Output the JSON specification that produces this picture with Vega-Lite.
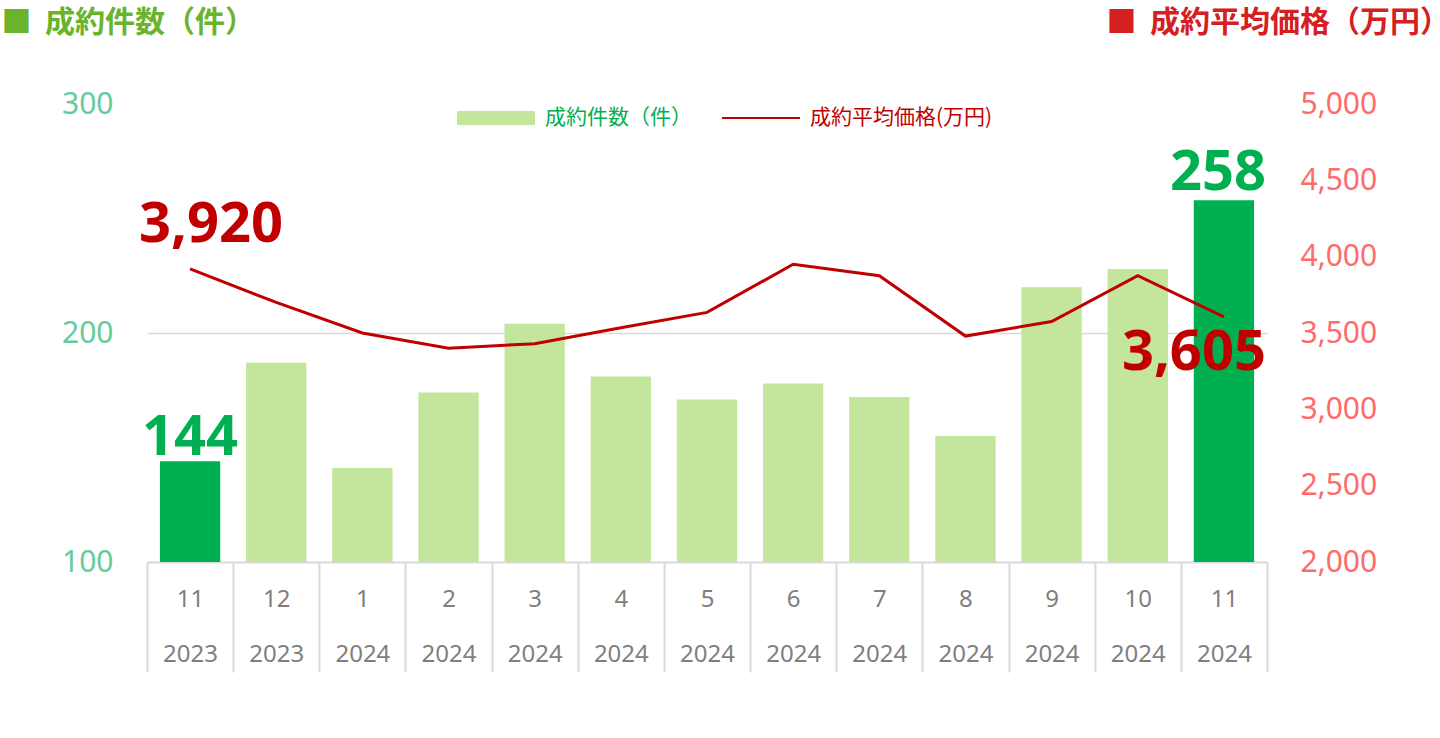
{
  "$schema": "https://vega.github.io/schema/vega-lite/v6.json",
  "width": 1120,
  "height": 458,
  "autosize": {"type": "none"},
  "padding": {"left": 147, "top": 104, "right": 173, "bottom": 176},
  "background": "white",
  "config": {"view": {"stroke": null}, "font": "Noto Sans"},
  "data": {
    "values": [
      {"key": "11|2023", "count": 144, "price": 3920},
      {"key": "12|2023", "count": 187, "price": 3700},
      {"key": "1|2024", "count": 141, "price": 3500},
      {"key": "2|2024", "count": 174, "price": 3400},
      {"key": "3|2024", "count": 204, "price": 3430},
      {"key": "4|2024", "count": 181, "price": 3535},
      {"key": "5|2024", "count": 171, "price": 3635},
      {"key": "6|2024", "count": 178, "price": 3950},
      {"key": "7|2024", "count": 172, "price": 3875},
      {"key": "8|2024", "count": 155, "price": 3480},
      {"key": "9|2024", "count": 220, "price": 3575},
      {"key": "10|2024", "count": 228, "price": 3875},
      {"key": "11|2024", "count": 258, "price": 3605}
    ]
  },
  "encoding": {
    "x": {
      "field": "key",
      "type": "nominal",
      "sort": null,
      "scale": {"paddingInner": 0, "paddingOuter": 0},
      "axis": {
        "title": null,
        "labelAngle": 0,
        "labelExpr": "datum.value ? split(datum.value, '|') : ''",
        "labelFontSize": 24,
        "labelFont": "Noto Sans",
        "labelColor": "#7f7f7f",
        "labelLineHeight": 55,
        "labelPadding": -85,
        "labelBaseline": "top",
        "labelOverlap": false,
        "domainColor": "#d9d9d9",
        "domainWidth": 2,
        "tickColor": "#d9d9d9",
        "tickWidth": 2,
        "tickSize": 110,
        "tickBand": "extent",
        "grid": false
      }
    }
  },
  "layer": [
    {
      "encoding": {
        "y": {
          "field": "count",
          "type": "quantitative",
          "scale": {"domain": [100, 300], "zero": false},
          "axis": {
            "orient": "left",
            "title": "■\u00a0\u00a0成約件数（件）",
            "titleAngle": 0,
            "titleAlign": "left",
            "titleBaseline": "alphabetic",
            "titleX": -146,
            "titleY": -73,
            "titleFontSize": 30,
            "titleFont": "Noto Sans CJK JP",
            "titleFontWeight": "bold",
            "titleColor": "#6ab42c",
            "values": [100, 200, 300],
            "domain": false,
            "ticks": false,
            "labelFlush": false,
            "labelPadding": 34,
            "labelFontSize": 30,
            "labelColor": "#66cc99",
            "grid": true,
            "gridColor": "#d9d9d9",
            "gridWidth": 1.5,
            "gridOpacity": {"condition": {"test": "datum.value === 200", "value": 1}, "value": 0}
          }
        }
      },
      "layer": [
        {
          "mark": {"type": "bar", "width": {"band": 0.7}},
          "encoding": {
            "y2": {"datum": 100},
            "color": {
              "condition": {"test": "datum.key === '11|2023' || datum.key === '11|2024'", "value": "#00b050"},
              "datum": "成約件数（件）",
              "type": "nominal",
              "scale": {"domain": ["成約件数（件）", "成約平均価格(万円)"], "range": ["#c4e59c", "#c00000"]},
              "legend": {
                "title": null,
                "orient": "none",
                "legendX": 310,
                "legendY": -25,
                "direction": "horizontal",
                "padding": 0,
                "symbolSize": 6084,
                "symbolStrokeWidth": 0,
                "labelFontSize": 21,
                "labelFont": "Noto Sans CJK JP",
                "labelOffset": 10,
                "labelLimit": 400,
                "columnPadding": 30,
                "encode": {
                  "symbols": {
                    "update": {
                      "shape": {"signal": "datum.value === '成約件数（件）' ? 'M-1,-0.18H1V0.18H-1Z' : 'M-1,-0.026H1V0.026H-1Z'"},
                      "fill": {"signal": "datum.value === '成約件数（件）' ? '#c4e59c' : '#c00000'"},
                      "stroke": {"value": "transparent"},
                      "opacity": {"value": 1}
                    }
                  },
                  "labels": {
                    "update": {
                      "fill": {"signal": "datum.value === '成約件数（件）' ? '#00b050' : '#c00000'"}
                    }
                  }
                }
              }
            }
          }
        },
        {
          "transform": [{"filter": "datum.key === '11|2023'"}],
          "mark": {"type": "text", "dy": -6, "fontSize": 56, "fontWeight": "bold", "color": "#00b050", "baseline": "alphabetic", "align": "center", "font": "Noto Sans"},
          "encoding": {"text": {"field": "count", "type": "quantitative", "format": ",.0f"}}
        },
        {
          "transform": [{"filter": "datum.key === '11|2024'"}],
          "mark": {"type": "text", "dx": -6, "dy": -10, "fontSize": 56, "fontWeight": "bold", "color": "#00b050", "baseline": "alphabetic", "align": "center", "font": "Noto Sans"},
          "encoding": {"text": {"field": "count", "type": "quantitative", "format": ",.0f"}}
        }
      ]
    },
    {
      "encoding": {
        "y": {
          "field": "price",
          "type": "quantitative",
          "scale": {"domain": [2000, 5000], "zero": false},
          "axis": {
            "orient": "right",
            "title": "■\u00a0\u00a0成約平均価格（万円）",
            "titleAngle": 0,
            "titleAlign": "left",
            "titleBaseline": "alphabetic",
            "titleX": -161,
            "titleY": -73,
            "titleFontSize": 30,
            "titleFont": "Noto Sans CJK JP",
            "titleFontWeight": "bold",
            "titleColor": "#d42020",
            "values": [2000, 2500, 3000, 3500, 4000, 4500, 5000],
            "format": ",.0f",
            "domain": false,
            "ticks": false,
            "grid": false,
            "labelFlush": false,
            "labelPadding": 33,
            "labelFontSize": 30,
            "labelColor": "#ff6b6b"
          }
        }
      },
      "layer": [
        {
          "mark": {"type": "line", "strokeWidth": 3},
          "encoding": {"color": {"datum": "成約平均価格(万円)", "type": "nominal"}}
        },
        {
          "transform": [{"filter": "datum.key === '11|2023'"}],
          "mark": {"type": "text", "dx": 21, "dy": -27, "fontSize": 56, "fontWeight": "bold", "color": "#c00000", "baseline": "alphabetic", "align": "center", "font": "Noto Sans"},
          "encoding": {"text": {"field": "price", "type": "quantitative", "format": ",.0f"}}
        },
        {
          "transform": [{"filter": "datum.key === '11|2024'"}],
          "mark": {"type": "text", "dx": -30, "dy": 53, "fontSize": 56, "fontWeight": "bold", "color": "#c00000", "baseline": "alphabetic", "align": "center", "font": "Noto Sans"},
          "encoding": {"text": {"field": "price", "type": "quantitative", "format": ",.0f"}}
        }
      ]
    }
  ],
  "resolve": {"scale": {"y": "independent"}}
}
